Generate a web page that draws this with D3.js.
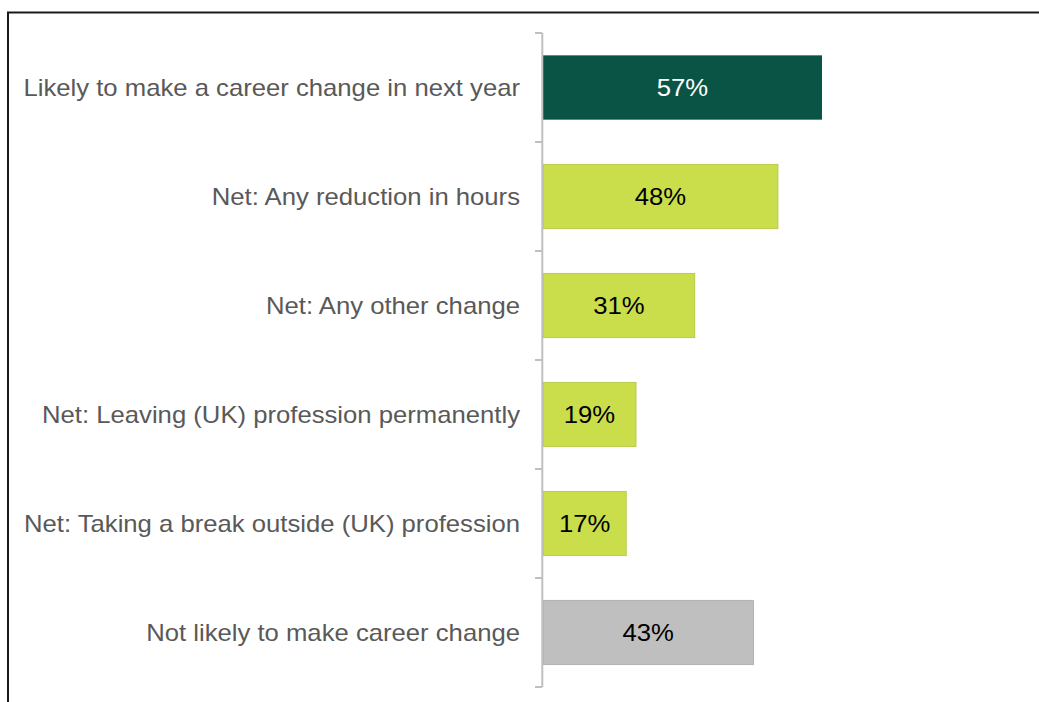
<!DOCTYPE html>
<html><head><meta charset="utf-8">
<script src="https://cdn.jsdelivr.net/npm/d3@7"></script>
<style>html,body{margin:0;padding:0;background:#fff;}svg{display:block;}</style>
</head><body>
<svg id="chart" width="1039" height="702"></svg>
<script>
const categories = [
  "Likely to make a career change in next year",
  "Net: Any reduction in hours",
  "Net: Any other change",
  "Net: Leaving (UK) profession permanently",
  "Net: Taking a break outside (UK) profession",
  "Not likely to make career change"
];
const values = [57, 48, 31, 19, 17, 43];
const barColors = ["#0a5446", "#cadd4a", "#cadd4a", "#cadd4a", "#cadd4a", "#bfbfbf"];
const labelColors = ["#ffffff", "#000000", "#000000", "#000000", "#000000", "#000000"];

const svg = d3.select("#chart");
const font = "'Liberation Sans', Arial, sans-serif";
const stretch = 1.07;

// frame
svg.append("rect").attr("x", 8).attr("y", 12.5).attr("width", 1100).attr("height", 800)
  .attr("fill", "none").attr("stroke", "#1a1a1a").attr("stroke-width", 2);

const x = d3.scaleLinear().domain([0, 57]).range([543, 822]);
const y = d3.scaleBand().domain(categories).range([33, 687]).paddingInner(0.41).paddingOuter(0.205);

const step = y.step();
// bars
svg.selectAll("rect.bar").data(categories).join("rect")
  .attr("class", "bar")
  .attr("x", x(0))
  .attr("y", d => y(d))
  .attr("width", (d, i) => x(values[i]) - x(0))
  .attr("height", y.bandwidth())
  .attr("fill", (d, i) => barColors[i])
  .attr("stroke", (d, i) => i === 0 ? "none" : d3.color(barColors[i]).darker(0.35))
  .attr("stroke-width", 0.8);

// value labels
svg.selectAll("text.val").data(categories).join("text")
  .attr("class", "val")
  .attr("transform", (d, i) => `translate(${(x(0) + x(values[i])) / 2},${y(d) + y.bandwidth() / 2}) scale(${stretch},1)`)
  .attr("dy", "0.35em")
  .attr("text-anchor", "middle")
  .attr("font-family", font)
  .attr("font-size", 24)
  .attr("fill", (d, i) => labelColors[i])
  .text((d, i) => values[i] + "%");

// axis
const axisX = 542.3;
const ticks = d3.range(categories.length + 1).map(i => 33 + i * step);
svg.append("line").attr("x1", axisX).attr("x2", axisX).attr("y1", 33).attr("y2", 687)
  .attr("stroke", "#bfbfbf").attr("stroke-width", 2);
svg.selectAll("line.tick").data(ticks).join("line")
  .attr("class", "tick")
  .attr("x1", 535).attr("x2", axisX).attr("y1", d => d).attr("y2", d => d)
  .attr("stroke", "#bfbfbf").attr("stroke-width", 2);

// category labels
svg.selectAll("text.cat").data(categories).join("text")
  .attr("class", "cat")
  .attr("transform", d => `translate(520,${y(d) + y.bandwidth() / 2}) scale(${stretch},1)`)
  .attr("dy", "0.35em")
  .attr("text-anchor", "end")
  .attr("font-family", font)
  .attr("font-size", 24)
  .attr("fill", "#595959")
  .text(d => d);
</script>
</body></html>
